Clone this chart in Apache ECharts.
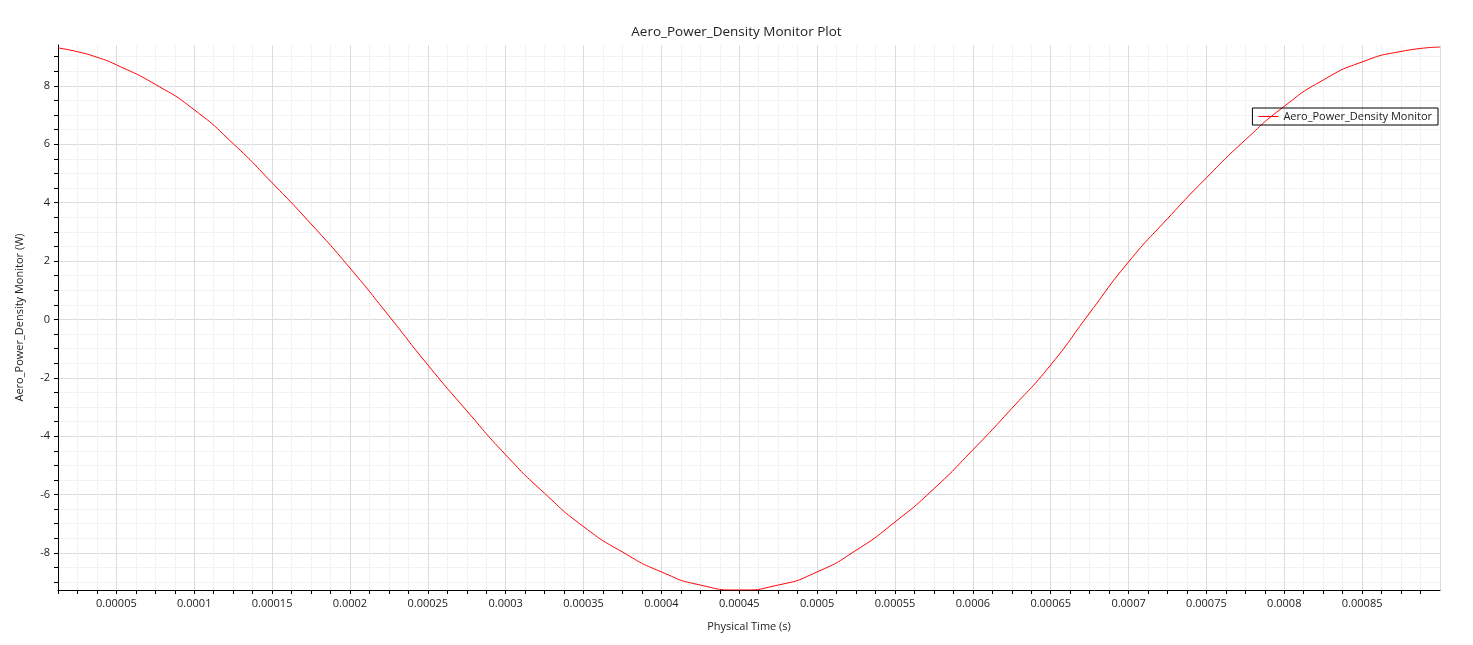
<!DOCTYPE html><html><head><meta charset="utf-8"><script src="https://cdn.jsdelivr.net/npm/echarts@6/dist/echarts.min.js"></script>
<style>html,body{margin:0;background:#fff}#c{width:1473px;height:645px}</style></head><body><div id="c"></div><script>
const times=[0.0000125,0.000025,0.0000375,0.00005,0.000075,0.0001,0.000125,0.00015,0.000175,0.0002,0.000225,0.00025,0.000275,0.0003,0.000325,0.00035,0.000375,0.0004,0.000425,0.00045,0.000475,0.0005,0.000525,0.00055,0.000575,0.0006,0.000625,0.00065,0.000675,0.0007,0.000725,0.00075,0.000775,0.0008,0.000825,0.00085,0.000875,0.0009];
const values=[9.30,9.17,8.98,8.72,8.05,7.18,6.02,4.68,3.27,1.76,0.12,-1.56,-3.13,-4.64,-5.96,-7.10,-7.97,-8.65,-9.10,-9.27,-9.10,-8.65,-7.91,-6.94,-5.80,-4.47,-3.05,-1.56,0.22,1.97,3.45,4.85,6.15,7.30,8.20,8.82,9.18,9.33];
const yTicks=[];for(let v=-9;v<=9;v+=0.5)yTicks.push(v);
const yLabels=[-8,-6,-4,-2,0,2,4,6,8];
const data=times.map((t,i)=>[t,values[i]]);
const M='#dcdcdc',m='#f2f2f2';
const f='Open Sans';
echarts.init(document.getElementById('c')).setOption({
animation:false,
title:{text:'Aero_Power_Density Monitor Plot',left:'center',top:20,textStyle:{fontFamily:f,fontSize:13.5,fontWeight:'normal',color:'#222'}},
legend:{right:35,top:108,orient:'vertical',borderColor:'#000',borderWidth:1,borderRadius:0,padding:[3,6],itemWidth:20,itemHeight:1,icon:'rect',textStyle:{fontFamily:f,fontSize:11,color:'#222'}},
grid:{left:58,right:33,top:45,bottom:55,containLabel:false},
xAxis:{type:'value',min:0.0000125,max:0.0009,interval:0.0000125,name:'Physical Time (s)',nameLocation:'middle',nameGap:31,nameTextStyle:{fontFamily:f,fontSize:11,color:'#222'},
axisLine:{onZero:false,lineStyle:{color:'#000'}},axisTick:{length:4,lineStyle:{color:'#000'}},
axisLabel:{fontFamily:f,fontSize:11,color:'#222',showMinLabel:true,showMaxLabel:false,formatter:v=>{const k=Math.round(v/0.0000125);return k%4===0?String(+(k*0.0000125).toPrecision(3)):'';}},
splitLine:{show:true,lineStyle:{color:[m,m,m,M]}}},
yAxis:{type:'value',min:-9.27,max:9.4,name:'Aero_Power_Density Monitor (W)',nameLocation:'middle',nameGap:33,nameTextStyle:{fontFamily:f,fontSize:11,color:'#222'},
axisLine:{show:true,onZero:false,lineStyle:{color:'#000'}},axisTick:{show:true,length:4,customValues:yTicks,lineStyle:{color:'#000'}},
axisLabel:{fontFamily:f,fontSize:11,color:'#222',customValues:yLabels},
splitLine:{show:true,lineStyle:{color:[m,m,M,m]}}},
series:[{name:'Aero_Power_Density Monitor',type:'line',data:data,smooth:0.6,showSymbol:false,lineStyle:{color:'#ff0000',width:1},itemStyle:{color:'#ff0000'}}]
});
</script></body></html>
